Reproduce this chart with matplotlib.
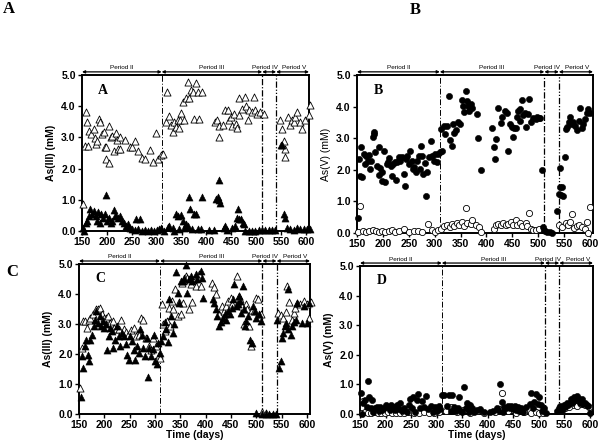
import numpy as np
import matplotlib
matplotlib.use("Agg")
import matplotlib.pyplot as plt

# ---------------- DATA ---------------- #
# Panel A: As(III) influent (open) / effluent (filled)
a_open_day = [153, 158, 161, 156, 163, 165, 169, 174, 176, 179, 181, 185, 187, 190, 194, 197, 199, 198,
              204, 205, 208, 211, 215, 218, 220, 222, 226, 227, 236, 246, 250, 256, 262, 271, 277, 286,
              292, 299, 302, 309, 312,
              319, 321, 325, 328, 332, 335, 339, 342, 344, 347, 349, 352, 355, 359, 363, 365, 369, 372,
              375, 380, 384, 385, 391, 418, 422, 425, 426, 433, 438, 443, 445, 450, 452, 455, 460, 462,
              465, 466, 472, 477, 480, 484, 486, 492, 496, 498, 502, 508, 515,
              548, 551, 555, 558, 557, 563, 568, 571, 575, 578, 581, 588, 591, 598, 605, 608]
a_open_val = [0.86, 3.82, 3.49, 2.74, 2.74, 3.20, 3.10, 3.27, 2.99, 2.80, 2.90, 3.59, 3.49, 3.12, 3.17,
              2.70, 2.69, 2.31, 2.17, 3.38, 3.00, 3.06, 2.58, 3.14, 2.92, 2.63, 3.01, 2.63, 2.92, 2.70,
              2.69, 2.88, 2.58, 2.34, 2.31, 2.60, 2.20, 3.14, 2.31, 2.42, 2.47,
              3.49, 4.46, 3.68, 3.39, 3.17, 3.49, 3.33, 3.55, 3.31, 3.55, 3.78, 4.14, 3.55, 4.25, 4.76,
              4.25, 4.52, 4.46, 3.60, 4.73, 4.46, 3.60, 4.46, 3.49, 3.55, 3.00, 3.36, 3.39, 3.87, 3.87,
              3.55, 3.66, 3.36, 3.76, 3.44, 3.31, 4.25, 3.71, 3.92, 4.28, 4.00, 3.55, 3.87, 3.82, 4.28,
              3.87, 3.76, 3.82, 3.74,
              3.55, 3.28, 2.90, 2.63, 2.37, 3.66, 3.39, 3.55, 3.49, 3.66, 3.82, 3.49, 3.28, 3.55, 3.71, 4.03]
a_fill_day = [153, 155, 158, 161, 165, 167, 171, 174, 178, 181, 183, 186, 189, 193, 196, 199, 200, 204,
              208, 211, 214, 216, 219, 222, 227, 231, 235, 238, 242, 246, 250, 256, 259, 262, 266, 270,
              276, 282, 288, 294, 300, 305,
              309, 315, 322, 325, 332, 335, 339, 342, 345, 349, 352, 355, 359, 362, 365, 367, 370, 374,
              379, 384, 389, 392, 405, 415, 420, 423, 425, 426, 428, 435, 438, 441, 452, 457, 461, 464,
              466, 470, 473, 476, 478, 485, 492, 498, 505, 511, 518, 525, 531, 538,
              549, 551, 555, 558, 561, 568, 575, 581, 588, 595, 602, 608]
a_fill_val = [0.10, 0.00, 0.27, 0.32, 0.48, 0.70, 0.54, 0.65, 0.48, 0.32, 0.62, 0.27, 0.54, 0.43, 0.56,
              1.16, 0.32, 0.43, 0.27, 0.32, 0.67, 0.48, 0.48, 0.43, 0.48, 0.32, 0.27, 0.16, 0.22, 0.10,
              0.05, 0.02, 0.38, 0.05, 0.38, 0.00, 0.02, 0.00, 0.03, 0.00, 0.02, 0.05,
              0.10, 0.00, 0.13, 0.16, 0.10, 0.00, 0.54, 0.48, 0.05, 0.52, 0.32, 0.10, 0.24, 0.16, 1.10,
              0.70, 0.05, 0.54, 0.54, 0.05, 0.05, 1.10, 0.02, 0.02, 1.02, 1.08, 1.63, 0.99, 0.91, 0.10,
              0.16, 0.02, 0.10, 0.16, 0.43, 0.70, 0.38, 0.38, 0.27, 0.24, 0.00, 0.00, 0.00, 0.00, 0.02,
              0.02, 0.02, 0.02, 0.02, 0.02,
              2.76, 2.76, 0.56, 0.43, 0.10, 0.05, 0.02, 0.10, 0.05, 0.05, 0.08, 0.05]

# Panel B: As(V) influent (filled) / effluent (open)
b_fill_day = [152, 154, 155, 160, 158, 163, 165, 168, 171, 173, 175, 177, 180, 182, 183, 185, 188, 192,
              193, 194, 198, 199, 202, 204, 207, 209, 212, 215, 218, 219, 223, 226, 228, 231, 234, 237,
              240, 242, 245, 247, 250, 253, 256, 258, 261, 264, 266, 269, 272, 274, 276, 278, 281, 283,
              286, 289, 293, 295, 299, 301, 304, 306,
              310, 313, 315, 318, 320, 324, 327, 330, 333, 335, 338, 341, 346, 349, 352, 354, 357, 360,
              362, 365, 366, 370, 373, 382, 383, 389, 411, 414, 417, 419, 423, 428, 431, 436, 439, 442,
              445, 449, 452, 453, 457, 459, 461, 464, 465, 469, 471, 474, 477, 480, 483, 486, 490, 495,
              497, 501, 503, 507, 509, 511, 514, 518, 522, 526,
              537, 540, 542, 543, 545, 546, 548, 551, 553, 556, 559, 562, 564, 568, 572, 575, 578, 581,
              584, 587, 590, 594, 597, 600]
b_fill_val = [0.48, 2.34, 1.79, 1.76, 2.73, 2.50, 2.18, 2.45, 2.29, 2.48, 2.03, 2.29, 3.03, 3.21, 3.13,
              2.55, 2.13, 2.71, 1.82, 2.06, 1.66, 1.92, 2.60, 1.61, 2.18, 2.24, 2.37, 2.13, 1.79, 2.18,
              2.24, 1.68, 2.24, 2.40, 2.29, 2.40, 1.87, 1.50, 2.34, 2.45, 2.18, 2.60, 2.29, 2.03, 2.10,
              1.92, 2.29, 2.45, 2.03, 2.76, 2.45, 1.87, 2.21, 1.18, 1.92, 2.40, 2.92, 2.45, 2.27, 2.50,
              2.24, 2.50,
              2.55, 3.29, 2.60, 3.39, 3.13, 3.39, 4.34, 2.94, 2.76, 3.45, 3.15, 3.26, 3.50, 3.45, 4.20,
              4.02, 3.84, 4.50, 4.18, 4.02, 3.87, 4.08, 3.97, 3.78, 3.00, 2.00, 3.32, 2.71, 2.34, 2.97,
              3.97, 3.47, 3.68, 3.87, 3.81, 2.60, 3.45, 3.36, 3.03, 3.32, 3.32, 3.68, 3.87, 3.92, 3.55,
              4.20, 3.74, 3.81, 3.36, 3.76, 4.23, 3.50, 3.63, 3.60, 3.68, 3.63, 3.63, 2.00, 0.19, 0.08,
              0.06, 0.03, 0.03, 0.00,
              0.71, 1.22, 1.45, 2.06, 1.19, 1.47, 1.16, 2.42, 3.29, 3.36, 3.50, 3.66, 3.45, 3.50, 3.39,
              3.26, 3.53, 3.97, 3.32, 3.45, 3.60, 3.81, 3.92, 3.81]
b_open_day = [152, 155, 161, 168, 174, 180, 187, 193, 199, 205, 212, 218, 224, 231, 241, 250, 260, 268,
              276, 288, 294, 300, 307,
              313, 319, 324, 329, 333, 338, 343, 348, 352, 357, 360, 363, 370, 373, 379, 385, 389, 414,
              419, 423, 428, 433, 438, 442, 447, 452, 457, 459, 464, 469, 476, 478, 483, 486, 491, 496,
              502,
              540, 546, 553, 558, 562, 565, 570, 575, 579, 584, 590, 594, 597, 600]
b_open_val = [0.03, 0.84, 0.05, 0.03, 0.05, 0.08, 0.05, 0.03, 0.05, 0.03, 0.05, 0.08, 0.03, 0.05, 0.14,
              0.03, 0.05, 0.05, 0.03, 0.27, 0.08, 0.03, 0.08,
              0.14, 0.21, 0.24, 0.19, 0.29, 0.21, 0.32, 0.24, 0.35, 0.21, 0.80, 0.32, 0.27, 0.40, 0.24,
              0.19, 0.03, 0.14, 0.24, 0.29, 0.24, 0.32, 0.24, 0.29, 0.35, 0.24, 0.40, 0.24, 0.32, 0.21,
              0.32, 0.21, 0.63, 0.14, 0.08, 0.10, 0.14,
              0.24, 0.19, 0.32, 0.24, 0.35, 0.59, 0.17, 0.21, 0.24, 0.19, 0.14, 0.35, 0.00, 0.82]

# Panel C: As(III) influent (open) / effluent (filled)
c_open_day = [151, 155, 157, 161, 166, 170, 172, 178, 183, 187, 192, 196, 200, 204, 207, 212, 217, 220,
              223, 229, 233, 238, 242, 246, 253, 258, 263, 268, 273, 276, 282, 288, 292, 297, 302, 307,
              309,
              314, 315, 319, 323, 327, 330, 334, 336, 340, 345, 348, 351, 353, 356, 358, 361, 364, 368,
              371, 373, 378, 381, 386, 391, 412, 417, 421, 427, 432, 437, 440, 445, 450, 453, 461, 465,
              467, 471, 476, 479, 482, 486, 489, 492, 496, 500, 504, 509, 512, 519,
              543, 548, 553, 558, 561, 564, 570, 574, 577, 581, 587, 594, 600, 604, 607]
c_open_val = [0.86, 2.20, 3.10, 3.10, 2.87, 3.15, 3.21, 3.32, 3.49, 3.49, 3.55, 3.32, 3.21, 3.21, 3.27,
              3.04, 3.10, 2.87, 2.82, 2.82, 3.15, 2.82, 2.73, 2.65, 2.80, 2.87, 2.60, 2.65, 3.21, 3.15,
              2.54, 2.28, 2.15, 2.54, 2.26, 1.98, 1.87,
              3.66, 2.99, 2.76, 3.10, 3.55, 2.93, 3.77, 3.51, 4.16, 3.27, 3.74, 3.32, 4.38, 3.71, 4.47,
              4.61, 4.55, 3.49, 4.33, 3.74, 4.50, 4.27, 4.66, 4.27, 4.38, 4.22, 3.99, 3.32, 3.60, 3.43,
              3.60, 3.77, 3.88, 3.66, 4.59, 3.94, 3.83, 3.60, 2.99, 3.66, 3.49, 2.93, 2.28, 3.47, 3.43,
              3.88, 3.83, 3.32, 0.08, 0.04,
              3.36, 3.29, 3.21, 3.40, 4.27, 3.74, 3.15, 3.36, 3.55, 3.71, 3.66, 3.77, 3.66, 3.21, 3.74]
c_fill_day = [153, 155, 158, 161, 164, 168, 170, 172, 176, 179, 181, 184, 187, 191, 194, 197, 200, 204,
              205, 209, 212, 216, 218, 222, 225, 229, 231, 235, 238, 242, 244, 248, 251, 255, 258, 261,
              264, 268, 271, 275, 277, 281, 284, 286, 289, 292, 296, 299, 301, 303, 306, 309,
              312, 315, 319, 322, 325, 328, 332, 335, 338, 341, 345, 348, 351, 355, 358, 361, 364, 368,
              371, 374, 380, 382, 391, 393, 395, 414, 417, 420, 423, 427, 430, 435, 439, 440, 445, 448,
              452, 454, 456, 459, 463, 465, 467, 469, 473, 476, 478, 480, 484, 487, 491, 494, 497, 500,
              505, 509, 500, 512, 519, 525, 532, 538,
              541, 544, 548, 550, 553, 557, 559, 563, 563, 568, 571, 574, 578, 581, 591, 594, 600, 604]
c_fill_val = [0.58, 1.92, 1.53, 2.26, 2.48, 1.98, 1.76, 2.48, 2.62, 2.93, 3.15, 3.43, 3.04, 3.27, 2.93,
              3.10, 2.87, 2.99, 2.15, 2.60, 2.87, 2.76, 2.20, 2.48, 2.93, 2.60, 2.28, 2.71, 2.60, 2.32,
              1.98, 1.81, 2.60, 2.43, 2.15, 1.81, 2.26, 2.04, 2.82, 2.65, 2.20, 1.92, 2.54, 1.23, 2.20,
              1.92, 2.17, 2.65, 1.76, 1.68, 2.37, 2.04,
              2.43, 2.60, 3.06, 2.84, 2.39, 3.83, 3.27, 2.71, 2.99, 4.72, 4.05, 3.71, 4.44, 4.44, 4.52,
              4.97, 4.05, 4.50, 4.61, 4.44, 4.66, 4.50, 4.78, 4.52, 3.88, 3.83, 3.71, 3.49, 3.27, 2.93,
              3.06, 3.21, 3.32, 3.15, 3.43, 3.32, 3.55, 3.83, 4.33, 3.60, 3.66, 3.94, 3.77, 3.38, 4.27,
              3.49, 2.93, 3.10, 3.27, 2.48, 2.37, 3.60, 3.43, 3.21, 3.32, 3.10, 0.02, 0.00, 0.00, 0.00,
              0.00, 0.00,
              3.15, 1.53, 1.76, 2.54, 2.71, 2.93, 3.04, 4.16, 2.82, 2.65, 2.93, 3.06, 3.15, 3.71, 3.04,
              3.60, 3.04, 3.71]

# Panel D: As(V) influent (filled) / effluent (open)
d_fill_day = [152, 154, 156, 160, 163, 165, 168, 171, 173, 176, 179, 184, 187, 190, 194, 197, 201, 205,
              208, 211, 216, 219, 222, 226, 229, 233, 237, 242, 245, 248, 251, 254, 258, 261, 264, 267,
              272, 275, 280, 283, 288, 293, 296, 301, 304, 307,
              310, 315, 320, 325, 328, 331, 334, 338, 341, 344, 347, 350, 354, 357, 360, 363, 366, 370,
              373, 379, 384, 392, 404, 411, 418, 421, 424, 427, 429, 432, 436, 440, 443, 446, 450, 453,
              456, 459, 462, 466, 469, 475, 482, 485, 488, 491, 494, 498, 501, 504, 507, 510, 514,
              536, 539, 542, 546, 549, 552, 555, 558, 562, 565, 568, 571, 574, 578, 581, 584, 587, 590,
              594, 597, 600]
d_fill_val = [0.72, 0.00, 0.36, 0.48, 0.25, 1.10, 0.59, 0.19, 0.48, 0.08, 0.19, 0.25, 0.11, 0.25, 0.14,
              0.19, 0.31, 0.25, 0.14, 0.31, 0.25, 0.14, 0.31, 0.16, 0.36, 0.11, 0.19, 0.08, 0.31, 0.50,
              0.19, 0.59, 0.08, 0.48, 0.68, 0.19, 0.45, 0.25, 0.62, 0.16, 0.27, 0.08, 0.23, 0.11, 0.27,
              0.16,
              0.64, 0.64, 0.27, 0.64, 0.11, 0.64, 0.23, 0.11, 0.19, 0.59, 0.11, 0.08, 0.90, 0.19, 0.36,
              0.08, 0.31, 0.19, 0.08, 0.14, 0.16, 0.08, 0.08, 0.11, 0.19, 0.14, 1.02, 0.42, 0.08, 0.25,
              0.19, 0.27, 0.19, 0.27, 0.16, 0.27, 0.14, 0.23, 0.11, 0.19, 0.08, 0.25, 0.34, 0.72, 0.19,
              0.42, 0.68, 0.34, 0.59, 0.31, 0.11, 0.19, 0.02,
              0.11, 0.19, 0.27, 0.14, 0.31, 0.25, 0.36, 0.31, 0.50, 0.38, 0.59, 0.48, 0.61, 0.50, 0.38,
              0.50, 0.34, 0.36, 0.31, 0.27, 0.02]
d_open_day = [153, 156, 160, 166, 172, 178, 185, 192, 198, 205, 212, 220, 228, 236, 245, 255, 265, 275,
              285, 295, 305,
              318, 329, 340, 352, 365, 378, 392, 415, 423, 428, 440, 455, 470, 485, 494, 500, 508,
              545, 552, 560, 568, 575, 582, 590, 598]
d_open_val = [0.05, 0.45, 0.08, 0.05, 0.03, 0.08, 0.05, 0.03, 0.05, 0.08, 0.03, 0.05, 0.03, 0.05, 0.08,
              0.03, 0.05, 0.08, 0.03, 0.05, 0.08,
              0.10, 0.22, 0.08, 0.12, 0.05, 0.10, 0.05, 0.08, 0.18, 0.70, 0.10, 0.05, 0.08, 0.05, 0.08,
              0.05, 0.05,
              0.15, 0.20, 0.25, 0.30, 0.28, 0.35, 0.30, 0.25]

# period boundaries (days), labels and where each label sits
period_edges = [150, 310, 512, 540, 606]
period_names = ["Period II", "Period III", "Period IV", "Period V"]
period_label_x = [230, 411, 518, 576]
y_ticks = [0.0, 1.0, 2.0, 3.0, 4.0, 5.0]
x_ticks = [150, 200, 250, 300, 350, 400, 450, 500, 550, 600]

# ---------------- FIGURE ---------------- #
W, H = 600, 443
fig = plt.figure(figsize=(W / 100, H / 100), dpi=100)
fig.patch.set_facecolor("white")


def px_axes(l, r, t, b):
    return fig.add_axes([l / W, 1 - b / H, (r - l) / W, (b - t) / H])


def draw_panel(ax, letter, ylabel, open_xy, fill_xy, open_mk, fill_mk, msize, xlabel=None,
               ylab_bold=True):
    ax.scatter(open_xy[0], open_xy[1], marker=open_mk, s=msize, facecolors="white",
               edgecolors="black", linewidths=0.6, clip_on=False, zorder=3)
    ax.scatter(fill_xy[0], fill_xy[1], marker=fill_mk, s=msize, facecolors="black",
               edgecolors="black", linewidths=0.4, clip_on=False, zorder=4)
    ax.set_xlim(150, 606)
    ax.set_ylim(0, 5.0)
    ax.set_xticks(x_ticks)
    ax.set_yticks(y_ticks)
    ax.set_yticklabels([f"{v:.1f}" for v in y_ticks])
    ax.tick_params(direction="out", length=3, width=1, labelsize=7.5, pad=1.5)
    for lab in ax.get_xticklabels() + ax.get_yticklabels():
        lab.set_fontweight("bold")
        lab.set_family("Liberation Sans")
    for sp in ax.spines.values():
        sp.set_linewidth(1.4)
    ax.set_ylabel(ylabel, fontsize=7.5, fontweight="bold" if ylab_bold else "normal",
                  family="Liberation Sans", labelpad=4)
    if xlabel:
        ax.set_xlabel(xlabel, fontsize=7.5, fontweight="bold", family="Liberation Sans",
                      labelpad=0)
    ax.text(0.07, 0.9, letter, transform=ax.transAxes, fontsize=10, fontweight="bold",
            family="Liberation Serif", va="center")
    # period dividers
    ax.axvline(period_edges[1], color="black", lw=0.7, ls=(0, (6, 2, 1, 2)), zorder=2)
    ax.axvline(period_edges[2], color="black", lw=0.9, ls=(0, (5, 1.5, 1, 1.5)), zorder=2)
    ax.axvline(period_edges[3], color="black", lw=0.9, ls=(0, (5, 1.5, 1, 1.5, 1, 1.5)), zorder=2)
    # period arrows on top
    ybar = 5.1
    for i, name in enumerate(period_names):
        x0, x1 = period_edges[i], period_edges[i + 1]
        ax.annotate("", xy=(x1, ybar), xytext=(x0, ybar), annotation_clip=False,
                    arrowprops=dict(arrowstyle="<|-|>", color="black", lw=0.9,
                                    mutation_scale=4, shrinkA=0, shrinkB=0))
        ax.text(period_label_x[i], ybar + 0.05, name, fontsize=4.6, ha="center", va="bottom",
                family="Liberation Sans", clip_on=False)


axA = px_axes(82, 309, 75, 231)
draw_panel(axA, "A", "As(III) (mM)", (a_open_day, a_open_val), (a_fill_day, a_fill_val),
           "^", "^", 26)
axB = px_axes(357, 593, 75, 233)
draw_panel(axB, "B", "As(V) (mM)", (b_open_day, b_open_val), (b_fill_day, b_fill_val),
           "o", "o", 20, ylab_bold=False)
axC = px_axes(79, 310, 264, 414)
draw_panel(axC, "C", "As(III) (mM)", (c_open_day, c_open_val), (c_fill_day, c_fill_val),
           "^", "^", 26, xlabel="Time (days)")
axD = px_axes(360, 593, 266, 414)
draw_panel(axD, "D", "As(V) (mM)", (d_open_day, d_open_val), (d_fill_day, d_fill_val),
           "o", "o", 20, xlabel="Time (days)")

# big panel letters
for txt, x, y in [("A", 3, 9), ("B", 410, 10), ("C", 6, 272)]:
    fig.text(x / W, 1 - y / H, txt, fontsize=12, fontweight="bold", family="Liberation Serif",
             va="center", ha="left")

fig.savefig("out.png", dpi=100, facecolor="white")
